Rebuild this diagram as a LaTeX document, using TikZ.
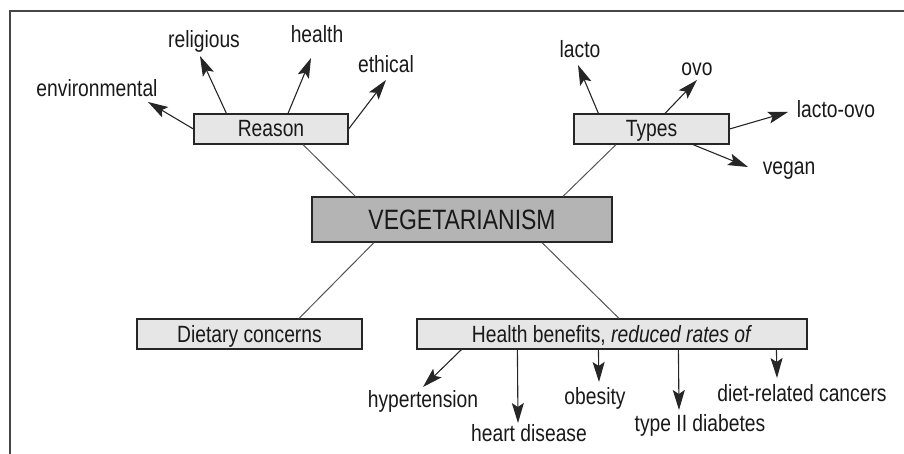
\documentclass[tikz,border=0pt]{standalone}
\usepackage{fontspec}
\setmainfont{Liberation Sans}[FakeStretch=0.82]
\usetikzlibrary{arrows.meta,positioning,calc}
\definecolor{vegline}{RGB}{85,85,85}
\definecolor{vegframe}{RGB}{70,70,70}
\definecolor{veglight}{RGB}{230,230,230}
\definecolor{vegdark}{RGB}{180,180,180}
\definecolor{vegtext}{RGB}{25,25,25}
\tikzset{
  box/.style={draw=black!85, line width=1.2pt, fill=veglight, minimum height=30pt,
    inner sep=0pt, text height=17pt, text depth=1pt, text=vegtext,
    font=\fontsize{23.5}{28}\selectfont},
  mainbox/.style={box, fill=vegdark, minimum height=45pt, minimum width=300pt,
    text height=20pt, text depth=0pt, font=\fontsize{28}{33}\selectfont},
  leaf/.style={anchor=base, inner sep=0pt, text=vegtext, font=\fontsize{23.5}{28}\selectfont},
  link/.style={draw=vegline, line width=1pt},
  pointer/.style={-{Stealth[length=20pt,width=12pt,inset=4pt]}, line width=1.1pt, draw=black!85},
  frame/.style={draw=vegframe, line width=1.5pt}
}

\begin{document}
\begin{tikzpicture}[x=1pt, y=-1pt]
    \useasboundingbox (0,0) rectangle (904,454);
    \draw[frame] (10,454) -- (10,11) -- (904,11);

    % boxes
    \node[mainbox] (veg) at (462,219.5) {VEGETARIANISM};
    \node[box, minimum width=154pt] (reason) at (271,129) {Reason};
    \node[box, minimum width=155pt] (types) at (651.5,129) {Types};
    \node[box, minimum width=225pt] (diet) at (249.5,334) {Dietary concerns};
    \node[box, minimum width=390pt] (health) at (612,334)
      {Health benefits, \textit{reduced rates of}};

    % leaves
    \node[leaf] (env) at (97,97) {environmental};
    \node[leaf] (rel) at (204,48) {religious};
    \node[leaf] (hea) at (317,43) {health};
    \node[leaf] (eth) at (386,73) {ethical};
    \node[leaf] (lac) at (580,58) {lacto};
    \node[leaf] (ovo) at (697,76) {ovo};
    \node[leaf] (lov) at (836,118) {lacto-ovo};
    \node[leaf] (vgn) at (789,175) {vegan};
    \node[leaf] (hyp) at (423,407) {hypertension};
    \node[leaf] (hrt) at (529,441) {heart disease};
    \node[leaf] (obe) at (595,404) {obesity};
    \node[leaf] (dia) at (700,431) {type II diabetes};
    \node[leaf] (can) at (802,401) {diet-related cancers};

    % arrow tips
    \coordinate (tEnv) at (148,102);
    \coordinate (tRel) at (200,56);
    \coordinate (tHea) at (311,58);
    \coordinate (tEth) at (386,80);
    \coordinate (tLac) at (578,65);
    \coordinate (tOvo) at (697,80);
    \coordinate (tLov) at (788,112);
    \coordinate (tVgn) at (748,167);
    \coordinate (tHyp) at (423,387);
    \coordinate (tHrt) at (518,423);
    \coordinate (tObe) at (599,382);
    \coordinate (tDia) at (679,410);
    \coordinate (tCan) at (777,378);

    % links to the centre
    \draw[link] ([xshift=32pt]reason.south) -- ([xshift=44pt]veg.north west);
    \draw[link] ([xshift=-35.5pt]types.south) -- ([xshift=101pt]veg.north);
    \draw[link] ([xshift=-88pt]veg.south) -- ([xshift=49.5pt]diet.north);
    \draw[link] ([xshift=80pt]veg.south) -- ([xshift=7pt]health.north);

    % reasons
    \draw[pointer] (reason.west) -- (tEnv);
    \draw[pointer] ([xshift=33pt]reason.north west) -- (tRel);
    \draw[pointer] ([xshift=17pt]reason.north) -- (tHea);
    \draw[pointer] (reason.east) -- (tEth);

    % types
    \draw[pointer] ([xshift=25pt]types.north west) -- (tLac);
    \draw[pointer] ([xshift=13.5pt]types.north) -- (tOvo);
    \draw[pointer] (types.east) -- (tLov);
    \draw[pointer] ([xshift=41.5pt]types.south) -- (tVgn);

    % health benefits
    \draw[pointer] ([xshift=45pt]health.south west) -- (tHyp);
    \draw[pointer] ([xshift=101pt]health.south west) -- (tHrt);
    \draw[pointer] ([xshift=182pt]health.south west) -- (tObe);
    \draw[pointer] ([xshift=262pt]health.south west) -- (tDia);
    \draw[pointer] ([xshift=360pt]health.south west) -- (tCan);
\end{tikzpicture}
\end{document}
